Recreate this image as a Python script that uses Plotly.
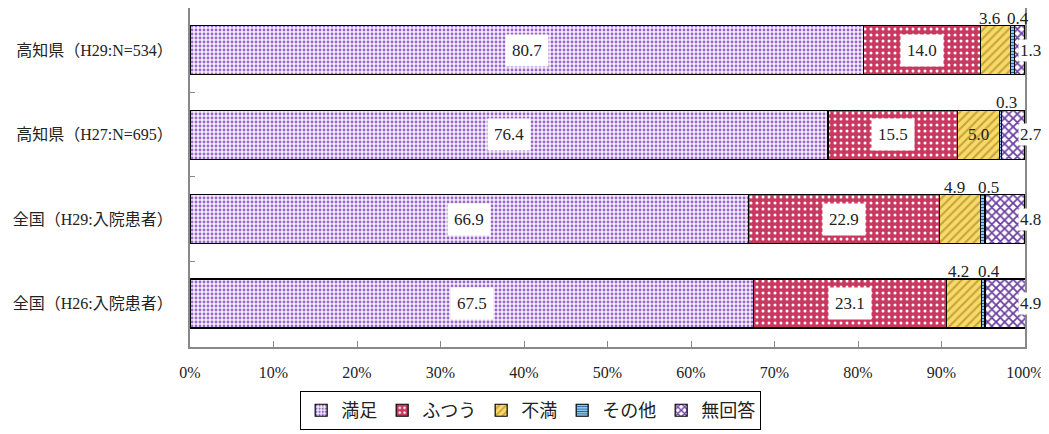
import plotly.graph_objects as go

categories = ["高知県（H29:N=534）", "高知県（H27:N=695）", "全国（H29:入院患者）", "全国（H26:入院患者）"]
series_names = ["満足", "ふつう", "不満", "その他", "無回答"]
manzoku = [80.7, 76.4, 66.9, 67.5]
futsuu = [14.0, 15.5, 22.9, 23.1]
fuman = [3.6, 5.0, 4.9, 4.2]
sonota = [0.4, 0.3, 0.5, 0.4]
mukaitou = [1.3, 2.7, 4.8, 4.9]
x_ticks = [0, 10, 20, 30, 40, 50, 60, 70, 80, 90, 100]
x_tick_labels = ["0%", "10%", "20%", "30%", "40%", "50%", "60%", "70%", "80%", "90%", "100%"]

values = [manzoku, futsuu, fuman, sonota, mukaitou]
styles = [
    dict(bg="#f6f0fc", fg="#9866c8", shape=".", size=4, sol=0.4),
    dict(bg="#c9395f", fg="#ffffff", shape=".", size=6, sol=0.2),
    dict(bg="#f6da6a", fg="#c9a13a", shape="/", size=6, sol=0.35),
    dict(bg="#9fd3f0", fg="#1f5fae", shape="-", size=3, sol=0.4),
    dict(bg="#ffffff", fg="#6b3fa0", shape="x", size=6, sol=0.5),
]

FONT = "Liberation Serif, DejaVu Serif, Noto Sans CJK JP"
NUM = dict(size=17, color="#222", family=FONT)

fig = go.Figure()
for name, vals, st in zip(series_names, values, styles):
    fig.add_trace(go.Bar(
        y=categories, x=vals, name=name, orientation="h",
        marker=dict(color=st["bg"], line=dict(color="#000000", width=1.2),
                    pattern=dict(shape=st["shape"], fgcolor=st["fg"], bgcolor=st["bg"],
                                 size=st["size"], solidity=st["sol"], fillmode="replace")),
        width=0.58, hoverinfo="skip",
    ))

ann = []
for i, cat in enumerate(categories):
    v = [s[i] for s in values]
    cum = [sum(v[:k]) for k in range(5)]
    for k in (0, 1):
        ann.append(dict(x=cum[k] + v[k] / 2, y=cat, text=f"{v[k]:.1f}", showarrow=False,
                        bgcolor="#ffffff", borderpad=6, font=NUM))
    if v[2] >= 5.0:
        ann.append(dict(x=cum[2] + v[2] / 2, y=cat, text=f"{v[2]:.1f}", showarrow=False, font=NUM))
    else:
        ann.append(dict(x=cum[2] + v[2] / 2, y=cat, text=f"{v[2]:.1f}", showarrow=False,
                        xshift=-6, yshift=32, font=NUM))
    ann.append(dict(x=cum[3] + v[3] / 2, y=cat, text=f"{v[3]:.1f}", showarrow=False,
                    xshift=6, yshift=32, font=NUM))
    ann.append(dict(x=100, y=cat, text=f"{v[4]:.1f}", showarrow=False, xanchor="left",
                    xshift=-7, bgcolor="#ffffff", borderpad=1, font=NUM))

fig.update_layout(
    barmode="stack",
    width=1041, height=426,
    margin=dict(l=182, r=24, t=0, b=87, autoexpand=False),
    plot_bgcolor="#ffffff", paper_bgcolor="#ffffff",
    font=dict(family=FONT, size=16, color="#222"),
    annotations=ann,
    legend=dict(orientation="h", x=0.408, xanchor="center", y=-0.13, yanchor="top",
                bordercolor="#000000", borderwidth=1, font=dict(size=18, family=FONT),
                itemwidth=30, traceorder="normal"),
    showlegend=True,
)
fig.update_xaxes(range=[0, 100], tickvals=x_ticks, ticktext=x_tick_labels,
                 ticks="inside", ticklen=6, tickcolor="#888", showgrid=False, zeroline=False,
                 showline=True, linecolor="#888", linewidth=2, mirror=True,
                 ticklabelstandoff=10, tickfont=dict(size=16, family=FONT), fixedrange=True)
fig.update_yaxes(autorange="reversed", ticks="inside", tickson="boundaries", ticklen=5,
                 tickcolor="#888", showgrid=False, showline=True, linecolor="#888",
                 linewidth=2, mirror=True, ticklabelstandoff=12, automargin=False,
                 tickfont=dict(size=16, family=FONT), fixedrange=True)

fig.write_html("out.html")
